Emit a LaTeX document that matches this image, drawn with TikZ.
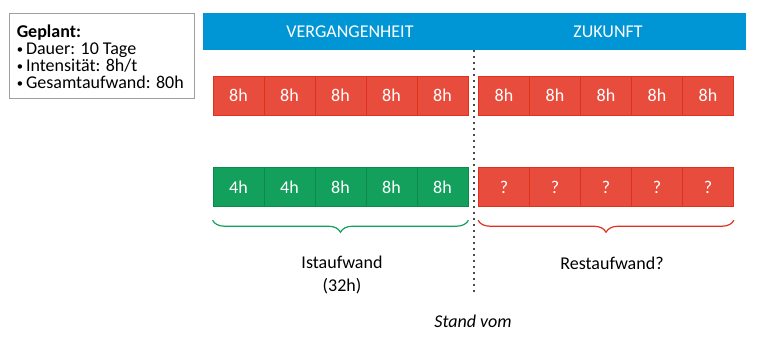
\documentclass[tikz,border=0pt]{standalone}
\usepackage{fontspec}
\setmainfont{Carlito}
\usetikzlibrary{decorations.pathreplacing}
\definecolor{kopfblau}{HTML}{0096D6}
\definecolor{zellrot}{HTML}{E74C3C}
\definecolor{randrot}{HTML}{E0311F}
\definecolor{zellgruen}{HTML}{12A05C}
\definecolor{randgruen}{HTML}{0C8A4A}
\newcommand{\punkt}{\raisebox{0.15ex}{\scalebox{0.7}{\textbullet}}\,}

\begin{document}
\begin{tikzpicture}[
        x=0.75pt, y=-0.75pt,
        every node/.style={font=\fontsize{13.5}{16}\selectfont},
        zelle/.style={
            rectangle,
            minimum width=38.25pt,
            minimum height=29.25pt,
            inner sep=0pt,
            line width=0.6pt,
            text=white
        },
        rot/.style={zelle, fill=zellrot, draw=randrot},
        gruen/.style={zelle, fill=zellgruen, draw=randgruen},
        klammer/.style={decorate, decoration={brace, mirror, amplitude=9pt}, line width=0.9pt}
    ]
        \useasboundingbox (0,0) rectangle (757,344);

        % Kasten mit den Planwerten
        \node[draw=gray!75, line width=0.8pt, anchor=north west,
              minimum width=138.75pt, minimum height=63.75pt] (plan) at (8.5,12.5) {};
        \node[anchor=north west, inner sep=0pt, align=left,
              font=\fontsize{13.5}{12.75}\selectfont] (plantext) at (16.5,24.5)
            {\textbf{Geplant:}\\ \punkt Dauer: 10 Tage\\ \punkt Intensität: 8h/t\\ \punkt Gesamtaufwand: 80h};

        % Kopfzeile
        \node[fill=kopfblau, minimum width=407.25pt, minimum height=27.75pt, inner sep=0pt] (kopf) at (474.5,31.5) {};
        \node[text=white] (vergangen) at (350,31.5) {VERGANGENHEIT};
        \node[text=white] (zukunft) at (608,31.5) {ZUKUNFT};

        % Plan: 10 Tage zu je 8h
        \foreach \t [count=\i] in {8h,8h,8h,8h,8h} {
            \node[rot] (p\i) at ({238.5+(\i-1)*51},95.5) {\t};
            \node[rot] (q\i) at ({504+(\i-1)*51},95.5) {\t};
        }

        % Ist: bisher geleistet, Rest offen
        \foreach \t [count=\i] in {4h,4h,8h,8h,8h} {
            \node[gruen] (g\i) at ({238.5+(\i-1)*51},187) {\t};
            \node[rot] (r\i) at ({504+(\i-1)*51},187) {?};
        }

        % Klammern
        \draw[klammer, draw=zellgruen] ([yshift=-10pt]g1.south west) -- ([yshift=-10pt]g5.south east);
        \draw[klammer, draw=randrot] ([yshift=-10pt]r1.south west) -- ([yshift=-10pt]r5.south east);

        % Stichtag
        \coordinate (oben) at (474,50);
        \coordinate (unten) at (474,296);
        \draw[gray!60!black, line width=1.5pt, dash pattern=on 1.5pt off 3pt] (oben) -- (unten);

        \node[align=center, font=\fontsize{13.5}{17.25}\selectfont] (ist) at (342,274.5) {Istaufwand\\(32h)};
        \node (rest) at (612,263) {Restaufwand?};
        \node[font=\fontsize{13.5}{16}\selectfont\itshape] (stand) at (473,321) {Stand vom};
    \end{tikzpicture}
\end{document}
